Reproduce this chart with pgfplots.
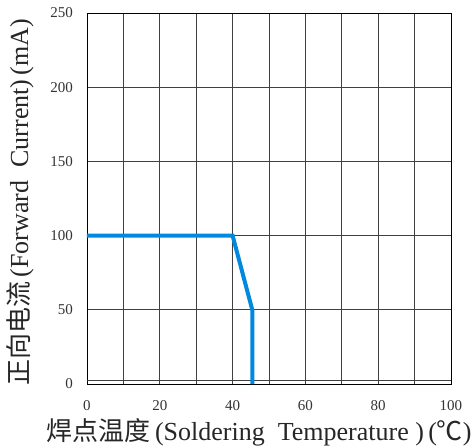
\documentclass[border=0pt]{standalone}
\usepackage{pgfplots}
\pgfplotsset{compat=1.18}
\usepackage{fontspec}
\setmainfont{Liberation Serif}
\newfontfamily\cjk{Noto Sans CJK SC}
\definecolor{curveblue}{RGB}{0,137,222}
\begin{document}
\begin{tikzpicture}
\useasboundingbox (-87pt,-64pt) rectangle (388pt,384pt);
\begin{axis}[
  scale only axis,
  width=364pt, height=371pt,
  xmin=0, xmax=100, ymin=0, ymax=250,
  xtick={0,20,...,100},
  minor xtick={10,30,50,70,90},
  ytick={0,50,...,250},
  grid=both,
  major grid style={black!75, line width=0.7pt},
  minor grid style={black!75, line width=0.7pt},
  axis line style={black, line width=0.8pt},
  tick style={draw=none},
  /pgf/number format/assume math mode=true,
  ticklabel style={font=\fontsize{15}{17}\selectfont, text=black!80, inner sep=0pt},
  xticklabel style={yshift=-16.5pt},
  yticklabel style={xshift=-14pt},
  xlabel={{\cjk 焊点温度}\,(Soldering\ \ Temperature\ )\,({\cjk ℃})},
  ylabel={{\cjk 正向电流}\,(Forward\ \ Current)\,(mA)},
  label style={font=\fontsize{26}{29}\selectfont, text=black!85, inner sep=0pt},
  xlabel style={at={(axis description cs:0.473,-0.129)}, anchor=center},
  ylabel style={at={(axis description cs:-0.184,0.49)}, anchor=center},
]
\addplot[black!75, line width=0.7pt, forget plot] coordinates {(0,2.2) (100,2.2)};
\addplot[curveblue, line width=4pt] coordinates {(0,100) (40,100) (45.4,50) (45.4,0)};
\end{axis}
\end{tikzpicture}
\end{document}
